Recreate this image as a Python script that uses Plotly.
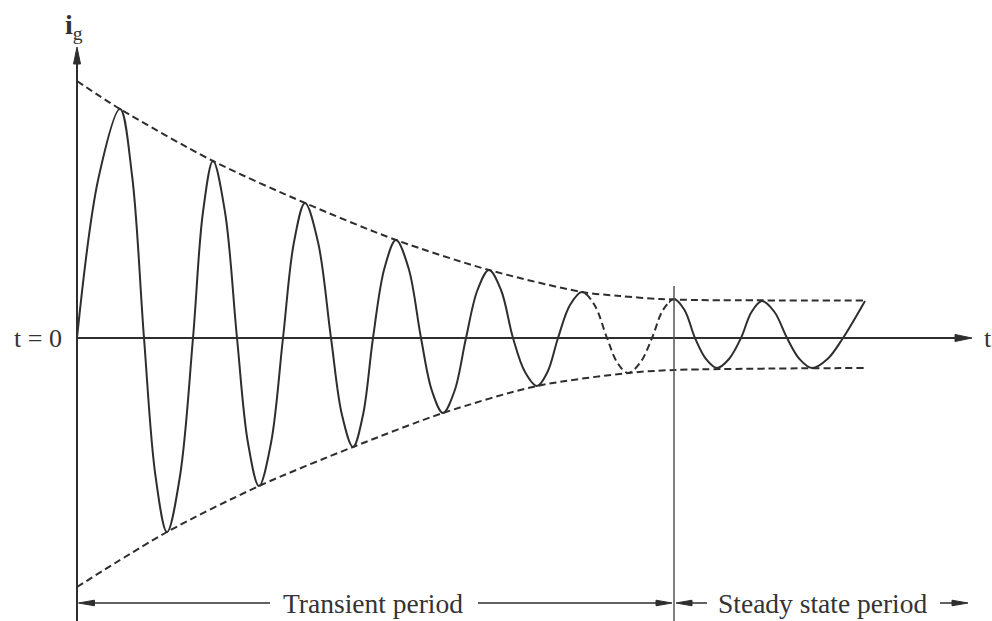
import plotly.graph_objects as go

# Grid current after a fault: damped oscillation settling to a steady state.
# t in ms from the fault instant, i in arbitrary current units.
# Points follow the drawn trace: zero crossings, extremes and the flanks between them.
wave_t = [0.0, 2.15, 4.3, 5.5, 6.7, 7.85, 9.0, 10.3, 11.6, 12.6, 13.6, 14.8,
          16.0, 17.1, 18.2, 19.4, 20.6, 21.7, 22.8, 24.1, 25.4, 26.5, 27.6,
          28.6, 29.6, 30.75, 31.9, 33.15, 34.4, 35.5, 36.6, 37.75, 38.9,
          40.05, 41.2, 42.4, 43.6, 44.8, 46.0, 47.05, 48.1, 49.3, 50.5,
          51.75, 53.0, 54.05, 55.1, 56.3, 57.5, 58.6, 59.7, 60.75, 61.8,
          62.9, 64.0, 65.2, 66.4, 67.45, 68.5, 69.75, 71.0, 72.25, 73.5,
          75.05, 76.6, 78.8]
wave_i = [0.0, 16.0, 22.9, 16.3, 0.0, -13.8, -19.4, -13.8, 0.0, 12.6, 17.7, 12.6,
          0.0, -10.5, -14.8, -10.5, 0.0, 9.6, 13.5, 9.6, 0.0, -7.7, -10.9,
          -7.7, 0.0, 7.0, 9.8, 7.0, 0.0, -5.3, -7.5, -5.3, 0.0,
          4.8, 6.8, 4.8, 0.0, -3.4, -4.8, -3.4, 0.0, 3.3, 4.6,
          3.3, 0.0, -2.5, -3.5, -2.5, 0.0, 2.8, 3.9, 2.8, 0.0,
          -2.1, -3.0, -2.1, 0.0, 2.6, 3.7, 2.6, 0.0, -2.1, -3.0,
          -2.1, 0.0, 3.7]

upper_t = [0.0, 4.3, 13.6, 22.8, 31.9, 41.2, 50.5, 54.3, 58.3, 62.0, 78.8]
upper_i = [25.7, 22.9, 17.7, 13.5, 9.8, 6.8, 4.6, 4.2, 3.9, 3.8, 3.75]
lower_t = [0.0, 9.0, 18.2, 27.6, 36.6, 46.0, 55.1, 59.7, 78.8]
lower_i = [-24.9, -19.4, -14.8, -10.9, -7.5, -4.8, -3.5, -3.2, -3.0]

t_dash_from = 51.0       # trace turns dashed just after this peak ...
t_dash_to = 59.2         # ... and solid again here
t_steady = 59.7          # start of the steady state period
t_axis_end = 89.5        # tip of the time axis arrow
i_axis_top = 29.1        # tip of the current axis arrow
band_y = -26.5           # level of the period arrows

X_RANGE = [-7.7, 91.5]
Y_RANGE = [-28.3, 33.8]

INK = "#2e2e2e"
TEXT = "#333333"
SERIF = "Liberation Serif, Times New Roman, serif"
DASH = "7px,4px"


def frac(t):
    return (t - X_RANGE[0]) / (X_RANGE[1] - X_RANGE[0])


fig = go.Figure()

# The same curve is drawn in three side-by-side windows that share one scale,
# so the solid and dashed stretches join seamlessly.
for axis, dash in (("x2", "solid"), ("x3", DASH), ("x4", "solid")):
    fig.add_trace(go.Scatter(
        x=wave_t, y=wave_i, mode="lines", xaxis=axis, yaxis="y",
        line=dict(color=INK, width=2, shape="spline", smoothing=1.0, dash=dash),
        hoverinfo="skip", showlegend=False))

for et, ei in ((upper_t, upper_i), (lower_t, lower_i)):
    fig.add_trace(go.Scatter(
        x=et, y=ei, mode="lines",
        line=dict(color=INK, width=2, shape="spline", smoothing=0.8, dash=DASH),
        hoverinfo="skip", showlegend=False))


def arrowhead(tx, ty, dx, dy, length=1.7, half=0.35):
    """Filled triangle with its tip at (tx, ty) pointing along (dx, dy)."""
    bx, by = tx - dx * length, ty - dy * length
    px, py = -dy * half, dx * half
    return dict(type="path", xref="x", yref="y",
                path=f"M{tx},{ty} L{bx + px},{by + py} L{bx - px},{by - py} Z",
                fillcolor=INK, line=dict(color=INK, width=1))


shapes = [
    # time axis
    dict(type="line", x0=0, y0=0, x1=t_axis_end - 1.0, y1=0,
         line=dict(color=INK, width=2)),
    arrowhead(t_axis_end, 0, 1, 0),
    # current axis
    dict(type="line", x0=0, y0=Y_RANGE[0], x1=0, y1=i_axis_top - 1.0,
         line=dict(color=INK, width=2)),
    arrowhead(0, i_axis_top, 0, 1),
    # boundary between transient and steady state
    dict(type="line", x0=t_steady, y0=Y_RANGE[0], x1=t_steady, y1=5.2,
         line=dict(color="#555555", width=1.5)),
]

# period arrows along the bottom: (tail, tip)
period_arrows = [(19.3, 0.15), (40.1, 59.5), (63.0, 59.9), (86.3, 89.1)]
for tail, tip in period_arrows:
    d = 1 if tip > tail else -1
    shapes.append(dict(type="line", x0=tail, y0=band_y, x1=tip - d * 1.0, y1=band_y,
                       line=dict(color=INK, width=1.5)))
    shapes.append(arrowhead(tip, band_y, d, 0, length=1.6, half=0.28))

annotations = [
    dict(x=-1.3, y=0, text="t = 0", xanchor="right", yanchor="middle",
         showarrow=False, font=dict(family=SERIF, size=26, color=TEXT)),
    dict(x=t_axis_end + 1.0, y=0, text="t", xanchor="left", yanchor="middle",
         showarrow=False, font=dict(family=SERIF, size=26, color=TEXT)),
    dict(x=-0.3, y=31.2, text="<b>i</b><sub>g</sub>", xanchor="center", yanchor="middle",
         showarrow=False, font=dict(family=SERIF, size=28, color=TEXT)),
    dict(x=29.6, y=band_y, text="Transient period", xanchor="center", yanchor="middle",
         showarrow=False, font=dict(family=SERIF, size=27.5, color=TEXT)),
    dict(x=74.5, y=band_y, text="Steady state period", xanchor="center", yanchor="middle",
         showarrow=False, font=dict(family=SERIF, size=27.5, color=TEXT)),
]

hidden = dict(visible=False, fixedrange=True, anchor="y")
fig.update_layout(
    width=992, height=621,
    margin=dict(l=0, r=0, t=0, b=0),
    paper_bgcolor="white", plot_bgcolor="rgba(0,0,0,0)",
    xaxis=dict(range=X_RANGE, domain=[0, 1], **hidden),
    xaxis2=dict(range=[X_RANGE[0], t_dash_from], domain=[0, frac(t_dash_from)], **hidden),
    xaxis3=dict(range=[t_dash_from, t_dash_to],
                domain=[frac(t_dash_from), frac(t_dash_to)], **hidden),
    xaxis4=dict(range=[t_dash_to, X_RANGE[1]], domain=[frac(t_dash_to), 1], **hidden),
    yaxis=dict(range=Y_RANGE, visible=False, fixedrange=True),
    shapes=shapes, annotations=annotations,
    showlegend=False,
)

fig.write_html("out.html", config={"displayModeBar": False})
